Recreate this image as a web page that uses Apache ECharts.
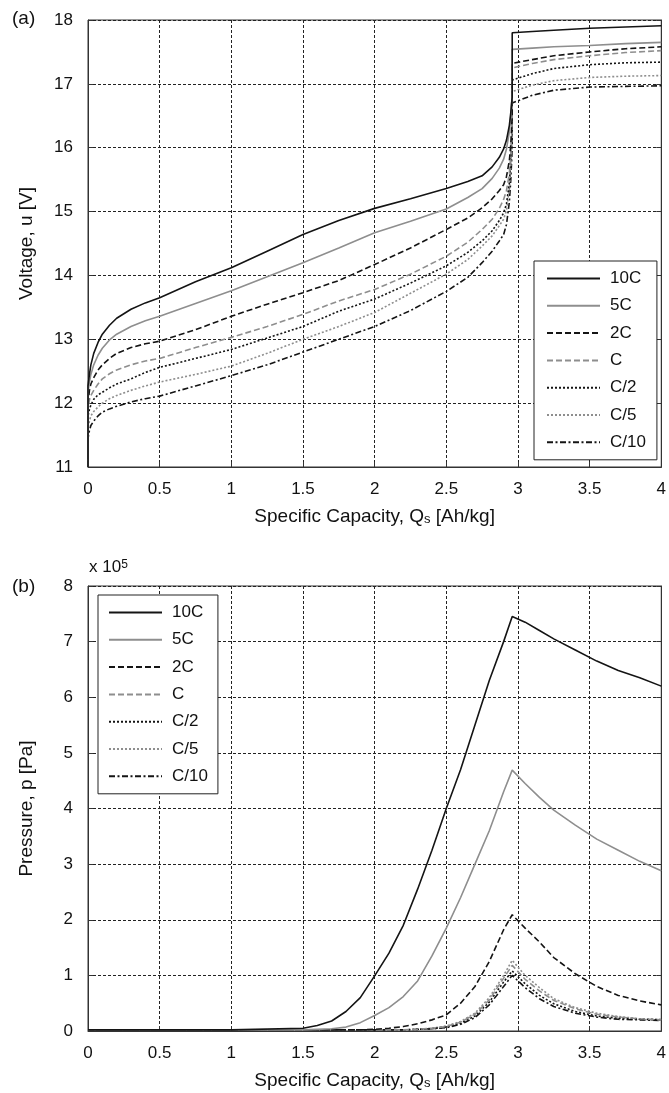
<!DOCTYPE html>
<html><head><meta charset="utf-8">
<script src="https://cdn.jsdelivr.net/npm/echarts@6/dist/echarts.min.js"></script>
<style>html,body{margin:0;padding:0;background:#fff}#c{width:669px;height:1093px}</style>
</head><body><div id="c"></div>
<script>
const seriesNames = ['10C', '5C', '2C', 'C', 'C/2', 'C/5', 'C/10'];
const xTicks = [0, 0.5, 1, 1.5, 2, 2.5, 3, 3.5, 4];

// (a) Voltage vs specific capacity
const xVolt = [0, 0, 0.01, 0.02, 0.04, 0.07, 0.1, 0.15, 0.2, 0.3, 0.4, 0.5, 0.75, 1.0, 1.25, 1.5, 1.75, 2.0, 2.25, 2.5, 2.65, 2.75, 2.82, 2.87, 2.9, 2.92, 2.94, 2.95, 2.96, 2.96, 3.1, 3.25, 3.5, 3.75, 4.0];
const v10C = [11.0, 12.27, 12.45, 12.6, 12.78, 12.95, 13.08, 13.22, 13.33, 13.47, 13.57, 13.65, 13.9, 14.12, 14.38, 14.64, 14.86, 15.05, 15.2, 15.36, 15.47, 15.56, 15.7, 15.85, 15.98, 16.12, 16.35, 16.55, 16.8, 17.8, 17.82, 17.84, 17.87, 17.89, 17.91];
const v5C = [11.0, 12.17, 12.33, 12.45, 12.6, 12.75, 12.86, 12.99, 13.08, 13.2, 13.29, 13.36, 13.56, 13.76, 13.98, 14.2, 14.43, 14.67, 14.85, 15.04, 15.22, 15.36, 15.52, 15.68, 15.82, 15.98, 16.25, 16.5, 16.85, 17.54, 17.56, 17.58, 17.6, 17.63, 17.65];
const v2C = [11.0, 12.0, 12.2, 12.3, 12.4, 12.52, 12.6, 12.7, 12.78, 12.87, 12.93, 12.97, 13.15, 13.36, 13.55, 13.73, 13.92, 14.17, 14.43, 14.72, 14.9, 15.06, 15.2, 15.33, 15.42, 15.55, 15.8, 16.05, 16.5, 17.32, 17.38, 17.44, 17.5, 17.55, 17.58];
const vC = [11.0, 11.9, 12.05, 12.12, 12.2, 12.3, 12.38, 12.46, 12.52, 12.6, 12.66, 12.7, 12.87, 13.03, 13.2, 13.39, 13.6, 13.78, 14.02, 14.3, 14.52, 14.72, 14.88, 15.05, 15.19, 15.33, 15.6, 15.9, 16.4, 17.25, 17.32, 17.38, 17.44, 17.49, 17.52];
const vC2 = [11.0, 11.8, 11.9, 11.97, 12.06, 12.13, 12.17, 12.24, 12.3, 12.38, 12.48, 12.56, 12.7, 12.84, 13.02, 13.2, 13.44, 13.63, 13.88, 14.15, 14.36, 14.54, 14.7, 14.86, 14.98, 15.12, 15.45, 15.8, 16.3, 17.06, 17.16, 17.24, 17.3, 17.33, 17.34];
const vC5 = [11.0, 11.6, 11.72, 11.8, 11.87, 11.94, 12.0, 12.07, 12.12, 12.2, 12.27, 12.33, 12.45, 12.58, 12.78, 13.0, 13.2, 13.42, 13.72, 14.02, 14.25, 14.46, 14.62, 14.78, 14.88, 15.02, 15.35, 15.7, 16.2, 16.88, 16.98, 17.05, 17.1, 17.12, 17.13];
const vC10 = [11.0, 11.45, 11.57, 11.65, 11.72, 11.8, 11.86, 11.91, 11.95, 12.02, 12.07, 12.11, 12.27, 12.43, 12.6, 12.8, 13.0, 13.2, 13.45, 13.75, 13.97, 14.2, 14.38, 14.54, 14.64, 14.8, 15.15, 15.5, 16.0, 16.7, 16.82, 16.9, 16.95, 16.96, 16.97];

// (b) Pressure (x 10^5 Pa) vs specific capacity
const xPres = [0, 0.5, 1.0, 1.5, 1.6, 1.7, 1.8, 1.9, 2.0, 2.1, 2.2, 2.3, 2.4, 2.5, 2.6, 2.7, 2.8, 2.9, 2.96, 3.05, 3.15, 3.25, 3.4, 3.55, 3.7, 3.85, 4.0];
const p10C = [0.02, 0.02, 0.02, 0.05, 0.1, 0.18, 0.35, 0.6, 0.99, 1.4, 1.9, 2.55, 3.25, 4.0, 4.7, 5.5, 6.3, 7.0, 7.45, 7.35, 7.2, 7.05, 6.85, 6.65, 6.48, 6.35, 6.2];
const p5C = [0.02, 0.02, 0.02, 0.02, 0.03, 0.04, 0.07, 0.15, 0.28, 0.42, 0.62, 0.9, 1.35, 1.85, 2.4, 3.0, 3.6, 4.3, 4.69, 4.45, 4.2, 3.97, 3.7, 3.45, 3.25, 3.05, 2.88];
const p2C = [0.02, 0.02, 0.02, 0.02, 0.02, 0.02, 0.02, 0.02, 0.03, 0.05, 0.08, 0.13, 0.2, 0.29, 0.5, 0.8, 1.25, 1.82, 2.09, 1.85, 1.6, 1.32, 1.03, 0.8, 0.64, 0.54, 0.47];
const pC = [0.02, 0.02, 0.02, 0.02, 0.02, 0.02, 0.02, 0.02, 0.02, 0.02, 0.02, 0.03, 0.05, 0.08, 0.16, 0.3, 0.56, 0.95, 1.18, 0.93, 0.72, 0.55, 0.4, 0.3, 0.25, 0.22, 0.2];
const pC2 = [0.02, 0.02, 0.02, 0.02, 0.02, 0.02, 0.02, 0.02, 0.02, 0.02, 0.02, 0.03, 0.04, 0.07, 0.14, 0.27, 0.52, 0.88, 1.08, 0.85, 0.64, 0.49, 0.35, 0.27, 0.23, 0.21, 0.2];
const pC5 = [0.02, 0.02, 0.02, 0.02, 0.02, 0.02, 0.02, 0.02, 0.02, 0.02, 0.02, 0.03, 0.05, 0.09, 0.17, 0.32, 0.6, 1.0, 1.27, 1.0, 0.78, 0.58, 0.42, 0.32, 0.26, 0.22, 0.21];
const pC10 = [0.02, 0.02, 0.02, 0.02, 0.02, 0.02, 0.02, 0.02, 0.02, 0.02, 0.02, 0.03, 0.04, 0.06, 0.12, 0.24, 0.47, 0.8, 1.0, 0.78, 0.58, 0.44, 0.32, 0.25, 0.21, 0.2, 0.19];

const voltSets = [v10C, v5C, v2C, vC, vC2, vC5, vC10];
const presSets = [p10C, p5C, p2C, pC, pC2, pC5, pC10];

const BLACK = '#141414', GREY = '#8e8e8e';
const styles = [
  {color: BLACK, type: 'solid'},
  {color: GREY, type: 'solid'},
  {color: BLACK, type: [6, 3]},
  {color: GREY, type: [6, 3]},
  {color: BLACK, type: [2, 2]},
  {color: GREY, type: [2, 2]},
  {color: BLACK, type: [6, 2.5, 2, 2.5]}
];

const FONT = 'Liberation Sans';
const zip = (xs, ys) => xs.map((x, i) => [x, ys[i]]);

function mkX(gi) {
  return {
    type: 'value', gridIndex: gi, min: 0, max: 4, interval: 0.5,
    axisLine: {show: true, onZero: false, lineStyle: {color: '#333', width: 1}},
    axisTick: {show: true, inside: true, length: 5, lineStyle: {color: '#333'}},
    axisLabel: {color: '#111', fontFamily: FONT, fontSize: 17, margin: 14},
    splitLine: {show: true, lineStyle: {color: '#222', type: [3, 2], width: 1}},
    name: 'Specific Capacity, Q{sub|s} [Ah/kg]', nameLocation: 'middle', nameGap: 40,
    nameTextStyle: {color: '#111', fontFamily: FONT, fontSize: 19,
      rich: {sub: {fontFamily: FONT, fontSize: 13, color: '#111', verticalAlign: 'bottom', lineHeight: 12}}}
  };
}
function mkY(gi, min, max, name, gap) {
  return {
    type: 'value', gridIndex: gi, min: min, max: max, interval: 1,
    axisLine: {show: true, lineStyle: {color: '#333', width: 1}},
    axisTick: {show: true, inside: true, length: 5, lineStyle: {color: '#333'}},
    axisLabel: {color: '#111', fontFamily: FONT, fontSize: 17, margin: 15},
    splitLine: {show: true, lineStyle: {color: '#222', type: [3, 2], width: 1}},
    name: name, nameLocation: 'middle', nameGap: gap,
    nameTextStyle: {color: '#111', fontFamily: FONT, fontSize: 19}
  };
}
function mkYRight(gi, min, max) {
  return {
    type: 'value', gridIndex: gi, min: min, max: max, interval: 1, position: 'right',
    axisLine: {show: true, lineStyle: {color: '#333', width: 1}},
    axisTick: {show: true, inside: true, length: 5, lineStyle: {color: '#333'}},
    axisLabel: {show: false}, splitLine: {show: false}
  };
}

const series = [];
seriesNames.forEach((n, i) => {
  series.push({
    type: 'line', name: n, xAxisIndex: 0, yAxisIndex: 0, showSymbol: false, symbol: 'none',
    data: zip(xVolt, voltSets[i]), lineStyle: {color: styles[i].color, type: styles[i].type, width: 1.6},
    itemStyle: {color: styles[i].color}, animation: false, z: 10 - i
  });
});
seriesNames.forEach((n, i) => {
  series.push({
    type: 'line', name: n, xAxisIndex: 1, yAxisIndex: 2, showSymbol: false, symbol: 'none',
    data: zip(xPres, presSets[i]), lineStyle: {color: styles[i].color, type: styles[i].type, width: 1.6},
    itemStyle: {color: styles[i].color}, animation: false, z: 10 - i
  });
});

const legendBase = {
  show: true, orient: 'vertical', itemWidth: 53, itemHeight: 14, itemGap: 10.3,
  backgroundColor: '#fff', borderColor: '#222', borderWidth: 1, borderRadius: 0,
  itemStyle: {opacity: 0},
  textStyle: {color: '#111', fontFamily: FONT, fontSize: 17, padding: [0, 0, 0, 5]},
  data: seriesNames, selectedMode: false, z: 20
};

const chart = echarts.init(document.getElementById('c'), null, {renderer: 'canvas'});
chart.setOption({
  backgroundColor: '#fff',
  animation: false,
  grid: [
    {left: 88, top: 20, width: 576, height: 447, show: true, borderColor: '#333', borderWidth: 1, backgroundColor: 'transparent'},
    {left: 88, top: 586, width: 576, height: 445, show: true, borderColor: '#333', borderWidth: 1, backgroundColor: 'transparent'}
  ],
  xAxis: [mkX(0), mkX(1)],
  yAxis: [mkY(0, 11, 18, 'Voltage, u [V]', 52), mkYRight(0, 11, 18), mkY(1, 0, 8, 'Pressure, p [Pa]', 52), mkYRight(1, 0, 8)],
  legend: [
    Object.assign({}, legendBase, {left: 534, top: 261, padding: [9, 11, 9, 12]}),
    Object.assign({}, legendBase, {left: 98, top: 595, padding: [9, 10, 9, 10]})
  ],
  graphic: [
    {type: 'text', left: 12, top: 9, style: {text: '(a)', font: '19px "Liberation Sans"', fill: '#111'}},
    {type: 'text', left: 12, top: 577, style: {text: '(b)', font: '19px "Liberation Sans"', fill: '#111'}},
    {type: 'text', left: 89, top: 559, style: {
      text: 'x 10{sup|5}', font: '17px "Liberation Sans"', fill: '#111',
      rich: {sup: {fontSize: 12, fontFamily: FONT, verticalAlign: 'top', fill: '#111'}}}}
  ],
  series: series
});
</script></body></html>
